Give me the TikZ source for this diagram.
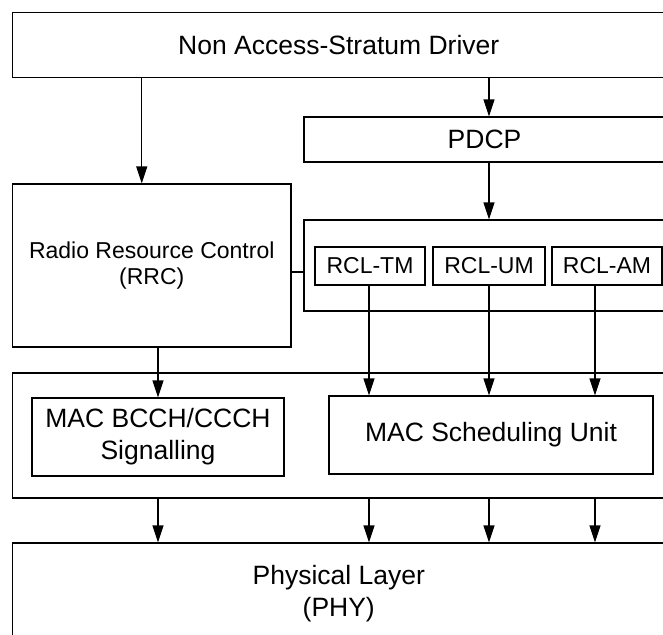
\documentclass[tikz,border=0pt]{standalone}
\usepackage{fontspec}
\setmainfont{Liberation Sans}
\usetikzlibrary{arrows.meta}
\begin{document}
\begin{tikzpicture}[x=1pt,y=-1pt,
  box/.style={draw,line width=1.1pt,inner sep=0pt,align=center,font=\fontsize{26.5}{32}\selectfont},
  sbox/.style={box,font=\fontsize{23}{26.5}\selectfont},
  arr/.style={line width=1.1pt,-{Triangle[length=17pt,width=11pt]}},
  conn/.style={line width=1.1pt}]
\useasboundingbox (0,0) rectangle (663,634);
\clip (0,0) rectangle (663,634);
% big boxes
\node[box,minimum width=652.5pt,minimum height=65pt] (nas) at (338.75,45) {Non Access-Stratum Driver};
\node[box,minimum width=361pt,minimum height=45pt] (pdcp) at (484.5,139.5) {PDCP};
\node[sbox,minimum width=278.5pt,minimum height=163pt] (rrc) at (151.75,265.5) {Radio Resource Control\\(RRC)};
\node[box,minimum width=361pt,minimum height=91pt] (rlc) at (484.5,265.5) {};
\node[sbox,minimum width=110pt,minimum height=38pt] (tm) at (370,266) {RCL-TM};
\node[sbox,minimum width=112pt,minimum height=38pt] (um) at (489,266) {RCL-UM};
\node[sbox,minimum width=110pt,minimum height=38pt] (am) at (607,266) {RCL-AM};
\node[box,minimum width=652.5pt,minimum height=125pt] (mac) at (338.75,435.5) {};
\node[box,minimum width=252pt,minimum height=78pt] (bcch) at (158,437) {MAC BCCH/CCCH\\Signalling};
\node[box,minimum width=324pt,minimum height=78pt] (sched) at (491,435) {MAC Scheduling Unit};
\node[box,minimum width=652.5pt,minimum height=101pt] (phy) at (338.75,593.5) {Physical Layer\\(PHY)};
% connectors
\draw[arr] ([xshift=-10pt]rrc.north |- nas.south) -- ([xshift=-10pt]rrc.north);
\draw[arr] (um.north |- nas.south) -- (um.north |- pdcp.north);
\draw[arr] (um.north |- pdcp.south) -- (um.north |- rlc.north);
\draw[conn] ([yshift=-6pt]rrc.east |- tm.west) -- ([yshift=-6pt]rlc.west |- tm.west);
\draw[arr] (bcch.north |- rrc.south) -- (bcch.north);
\draw[arr] ([xshift=-1pt]tm.south) -- ([xshift=-1pt]tm.south |- sched.north);
\draw[arr] (um.south) -- (um.south |- sched.north);
\draw[arr] ([xshift=-12pt]am.south) -- ([xshift=-12pt]am.south |- sched.north);
\draw[arr] (bcch.south |- mac.south) -- (bcch.south |- phy.north);
\draw[arr] ([xshift=-1pt]tm.south |- mac.south) -- ([xshift=-1pt]tm.south |- phy.north);
\draw[arr] (um.south |- mac.south) -- (um.south |- phy.north);
\draw[arr] ([xshift=-12pt]am.south |- mac.south) -- ([xshift=-12pt]am.south |- phy.north);
\end{tikzpicture}
\end{document}
